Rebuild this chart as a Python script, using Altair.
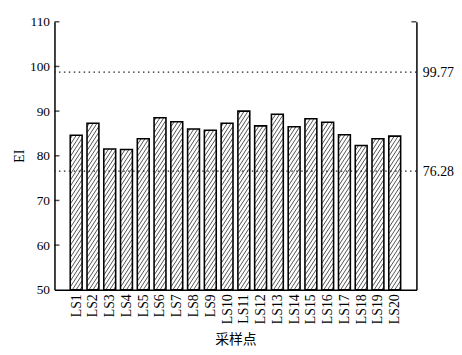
import altair as alt
import pandas as pd

# ---- data ----
sites = ["LS1", "LS2", "LS3", "LS4", "LS5", "LS6", "LS7", "LS8", "LS9", "LS10",
         "LS11", "LS12", "LS13", "LS14", "LS15", "LS16", "LS17", "LS18", "LS19", "LS20"]
ei = [84.6, 87.3, 81.5, 81.4, 83.8, 88.5, 87.6, 86.0, 85.7, 87.3,
      90.0, 86.7, 89.3, 86.5, 88.3, 87.5, 84.7, 82.3, 83.8, 84.4]
ref_values = [99.77, 76.28]
y_ticks = [50, 60, 70, 80, 90, 100, 110]

# ---- layout / style ----
W, H = 366, 271
X_DOMAIN = [0, len(sites) + 1]
Y_DOMAIN = [50, 110]
R_DOMAIN = [48.09, 111.75]
BAR_PX = 12
SERIF = "Liberation Serif"
CJK = "Noto Sans CJK SC"

idx = list(range(1, len(sites) + 1))
df = pd.DataFrame({"site": sites, "idx": idx, "ei": ei})

# hatch segments derived from each bar's value (decoration inside bars)
sx = W / (X_DOMAIN[1] - X_DOMAIN[0])
sy = H / (Y_DOMAIN[1] - Y_DOMAIN[0])
slope, gap = 1.5, 4.0
rows = []
for i, v in zip(idx, ei):
    bw = BAR_PX
    bh = (v - Y_DOMAIN[0]) * sy
    c = bw - gap / 2
    while c > -bh / slope - gap:
        w_lo = max(0.0, -c * slope)
        w_hi = min(bh, (bw - c) * slope)
        if w_hi > w_lo + 0.3:
            u1 = c + w_lo / slope
            u2 = c + w_hi / slope
            left = i - bw / 2 / sx
            rows.append({"hx": left + u1 / sx, "hx2": left + u2 / sx,
                         "hy": Y_DOMAIN[0] + w_lo / sy, "hy2": Y_DOMAIN[0] + w_hi / sy})
        c -= gap
hdf = pd.DataFrame(rows)

xs = alt.Scale(domain=X_DOMAIN, nice=False, zero=False)
ys = alt.Scale(domain=Y_DOMAIN, nice=False, zero=False)
rs = alt.Scale(domain=R_DOMAIN, nice=False, zero=False)

label_expr = "[" + ",".join(f"'{s}'" for s in sites) + "][datum.value - 1]"

x_axis = alt.Axis(orient="bottom", values=idx, labelExpr=label_expr, labelAngle=270,
                  labelAlign="right", labelBaseline="middle", ticks=False, grid=False,
                  labelPadding=4, labelOverlap=False, labelFont=SERIF, labelFontSize=14,
                  title="采样点", titleFont=CJK, titleFontSize=14, titleFontWeight="normal",
                  titlePadding=9, domainColor="black", domainWidth=1.5)
y_axis = alt.Axis(orient="left", values=y_ticks, ticks=False, grid=False, labelPadding=5,
                  labelFont=SERIF, labelFontSize=13.5, title="EI", titleFont=SERIF,
                  titleFontSize=14, titleFontWeight="normal", titlePadding=3,
                  domainColor="black", domainWidth=1.5)
r_axis = alt.Axis(orient="right", values=ref_values, format=".2f", ticks=False, grid=False,
                  labelPadding=6, labelFont=SERIF, labelFontSize=14, title=None,
                  domainColor="black", domainWidth=1.5)

bars = alt.Chart(df).mark_bar(size=BAR_PX, fill="white").encode(
    x=alt.X("idx:Q", scale=xs, axis=x_axis),
    y=alt.Y("ei:Q", scale=ys, axis=y_axis),
    y2=alt.datum(Y_DOMAIN[0]),
)
hatch = alt.Chart(hdf).mark_rule(color="#333333", strokeWidth=0.85).encode(
    x=alt.X("hx:Q", scale=xs, axis=None), x2="hx2:Q",
    y=alt.Y("hy:Q", scale=ys, axis=None), y2="hy2:Q",
)
outline = alt.Chart(df).mark_bar(size=BAR_PX, filled=False, color="black",
                                 strokeWidth=1.6).encode(
    x=alt.X("idx:Q", scale=xs, axis=None),
    y=alt.Y("ei:Q", scale=ys, axis=None),
    y2=alt.datum(Y_DOMAIN[0]),
)
tick_df = pd.DataFrame({"t": y_ticks[1:]})
left_ticks = alt.Chart(tick_df).mark_tick(orient="horizontal", size=5, thickness=1.5,
                                          color="black").encode(
    y=alt.Y("t:Q", scale=ys, axis=None), x=alt.value(2.5))
right_tick = alt.Chart(pd.DataFrame({"t": [y_ticks[-1]]})).mark_tick(
    orient="horizontal", size=5, thickness=1.5, color="black").encode(
    y=alt.Y("t:Q", scale=ys, axis=None), x=alt.value(W - 2.5))

refs = alt.Chart(pd.DataFrame({"v": ref_values})).mark_rule(
    color="#222", strokeWidth=1.3, strokeDash=[1.5, 3.5]).encode(
    y=alt.Y("v:Q", scale=rs, axis=r_axis))

chart = alt.layer(bars, hatch, outline, left_ticks, right_tick, refs).resolve_scale(
    y="independent").resolve_axis(x="independent", y="independent").properties(
    width=W, height=H,
    padding={"left": 47, "top": 12, "right": 38, "bottom": 62},
    autosize=alt.AutoSizeParams(type="none"),
).configure_view(stroke=None).configure_axis(labelColor="black", titleColor="black")

chart.save("out.html", embed_options={"renderer": "svg", "actions": False})
